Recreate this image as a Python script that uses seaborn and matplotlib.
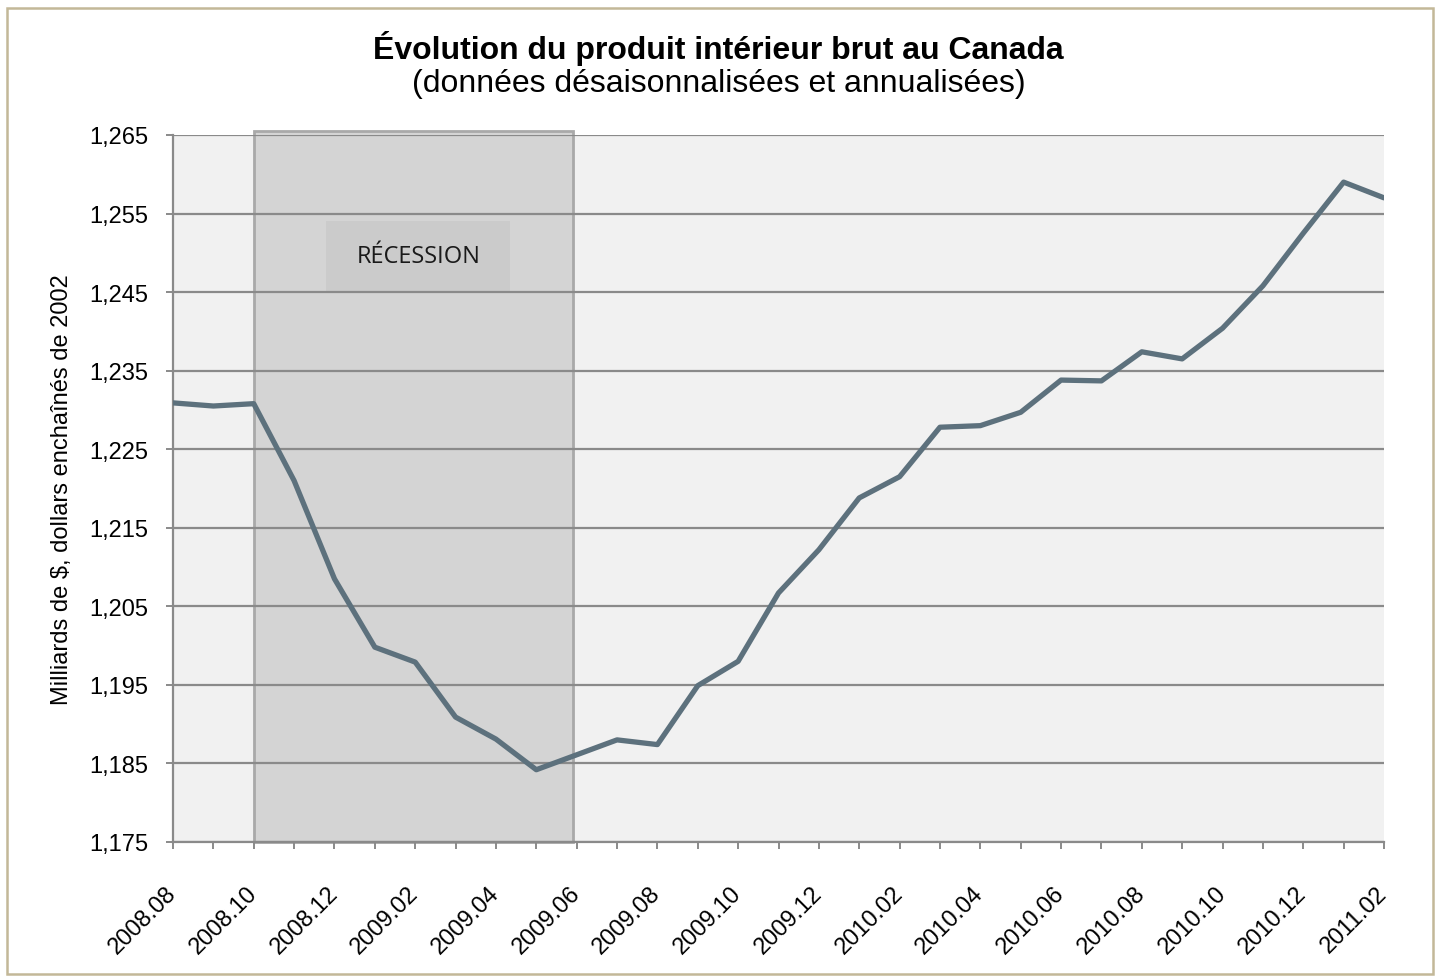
import matplotlib
matplotlib.use("Agg")
import matplotlib.pyplot as plt
from matplotlib.patches import Rectangle
from matplotlib.ticker import FuncFormatter, MultipleLocator
import pandas as pd
import seaborn as sns


MONTHS = [
    "2008.08", "2008.09", "2008.10", "2008.11", "2008.12",
    "2009.01", "2009.02", "2009.03", "2009.04", "2009.05", "2009.06",
    "2009.07", "2009.08", "2009.09", "2009.10", "2009.11", "2009.12",
    "2010.01", "2010.02", "2010.03", "2010.04", "2010.05", "2010.06",
    "2010.07", "2010.08", "2010.09", "2010.10", "2010.11", "2010.12",
    "2011.01", "2011.02",
]
GDP = [
    1230.9, 1230.5, 1230.8, 1221.0, 1208.5,
    1199.8, 1197.9, 1190.9, 1188.1, 1184.2, 1186.1,
    1188.0, 1187.4, 1194.9, 1198.0, 1206.7, 1212.2,
    1218.8, 1221.5, 1227.8, 1228.0, 1229.7, 1233.8,
    1233.7, 1237.4, 1236.5, 1240.4, 1245.8, 1252.5,
    1259.0, 1257.0,
]
Y_TICKS = list(range(1175, 1266, 10))

# recession period (month index) and the label box (x0, y0, width, height)
RECESSION_START = 2
RECESSION_END = 9.9
LABEL_BOX = (3.8, 1245.1, 4.55, 8.95)

TITLE = "Évolution du produit intérieur brut au Canada"
SUBTITLE = "(données désaisonnalisées et annualisées)"
Y_LABEL = "Milliards de $, dollars enchaînés de 2002"

W, H = 1437, 979


def main():
    sns.set_theme(style="white")
    plt.rcParams["font.family"] = ["Liberation Sans", "DejaVu Sans"]
    plt.rcParams["text.color"] = "black"
    plt.rcParams["xtick.color"] = "black"
    plt.rcParams["ytick.color"] = "black"

    df = pd.DataFrame({"idx": range(len(MONTHS)), "gdp": GDP})

    fig = plt.figure(figsize=(W / 100, H / 100), dpi=100)
    ax = fig.add_axes([173 / W, 1 - 843 / H, (1384 - 173) / W, (843 - 136) / H])
    ax.set_facecolor("#f1f1f1")

    # outer frame
    fig.patches.append(Rectangle((7 / W, 4 / H), 1426 / W, 966 / H,
                                 transform=fig.transFigure, fill=False,
                                 edgecolor="#c3b898", linewidth=1.8))

    for y in Y_TICKS:
        ax.axhline(y, color="#8a8a8a", linewidth=1.6, zorder=1)

    ax.axvspan(RECESSION_START, RECESSION_END, ymin=0, ymax=1.005, facecolor="#d4d4d4",
               edgecolor="#a9a9a9", linewidth=2, zorder=0.5, clip_on=False)
    x0, y0, bw, bh = LABEL_BOX
    ax.add_patch(Rectangle((x0, y0), bw, bh, facecolor="#cbcbcb", edgecolor="none", zorder=0.8))
    ax.text(x0 + bw / 2, y0 + bh / 2, "RÉCESSION", ha="center", va="center",
            fontsize=17, family=["Open Sans", "DejaVu Sans"], color="#1a1a1a", zorder=3)

    sns.lineplot(data=df, x="idx", y="gdp", ax=ax, color="#5d717d", linewidth=3.8, zorder=4)

    ax.set_xlim(0, len(MONTHS) - 1)
    ax.set_ylim(Y_TICKS[0], Y_TICKS[-1])
    ax.set_yticks(Y_TICKS)
    ax.yaxis.set_major_formatter(FuncFormatter(lambda v, _: f"{v:,.0f}"))
    ax.set_xticks(range(0, len(MONTHS), 2))
    ax.set_xticklabels(MONTHS[::2])
    ax.xaxis.set_minor_locator(MultipleLocator(1))

    for side in ["top", "right"]:
        ax.spines[side].set_visible(False)
    for side in ["left", "bottom"]:
        ax.spines[side].set_color("#8a8a8a")
        ax.spines[side].set_linewidth(1.6)
        ax.spines[side].set_zorder(2)

    ax.tick_params(axis="y", which="major", direction="out", length=5, width=1.4,
                   color="#8a8a8a", labelsize=17, pad=13, left=True)
    ax.tick_params(axis="x", which="both", direction="out", length=5, width=1.4,
                   color="#8a8a8a", bottom=True)
    ax.tick_params(axis="x", which="major", labelsize=17, pad=29)
    for lbl in ax.get_xticklabels():
        lbl.set_rotation(45)
        lbl.set_ha("right")
        lbl.set_va("center")
        lbl.set_rotation_mode("anchor")

    ax.set_xlabel("")
    ax.set_ylabel("")
    fig.text(62 / W, 1 - 490 / H, Y_LABEL, rotation=90, ha="center", va="center", fontsize=17)

    fig.text(0.5, 1 - 48 / H, TITLE, ha="center", va="center", fontsize=23, fontweight="bold")
    fig.text(0.5, 1 - 84 / H, SUBTITLE, ha="center", va="center", fontsize=23)

    fig.savefig("out.png", dpi=100)
    plt.close(fig)


if __name__ == "__main__":
    main()
